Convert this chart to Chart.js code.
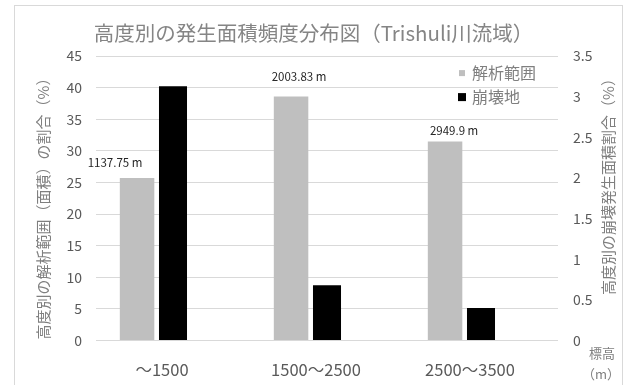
<!DOCTYPE html>
<html>
<head>
<meta charset="utf-8">
<script src="https://cdn.jsdelivr.net/npm/chart.js@4/dist/chart.umd.min.js"></script>
<style>
  html, body { margin:0; padding:0; background:#fff; }
  #wrap { position:relative; width:627px; height:385px; overflow:hidden; }
  #frame { position:absolute; left:14px; top:5px; width:609px; height:400px;
           border:1px solid #d9d9d9; box-sizing:border-box; }
  canvas { position:absolute; left:0; top:0; }
</style>
</head>
<body>
<div id="wrap">
  <div id="frame"></div>
  <canvas id="c" width="627" height="385"></canvas>
</div>
<script>
// 標高帯
var categories = ['～1500', '1500～2500', '2500～3500'];
// 解析範囲の割合（%） 左軸
var areaShare = [25.7, 38.6, 31.5];
// 崩壊発生面積割合（%） 右軸
var slideShare = [3.13, 0.68, 0.40];
// 各標高帯の平均標高
var meanElev = ['1137.75 m', '2003.83 m', '2949.9 m'];
var leftTicks = { min: 0, max: 45, step: 5 };
var rightTicks = { min: 0, max: 3.5, step: 0.5 };

var JP = '"Noto Sans CJK JP", "Noto Sans", sans-serif';

// 凡例・軸タイトル・平均標高ラベル
var extras = {
  id: 'extras',
  afterDatasetsDraw: function(chart, args, opt){
    var ctx = chart.ctx, area = chart.chartArea;
    ctx.save();

    // 平均標高ラベル（灰色バーの上）
    var meta = chart.getDatasetMeta(0);
    ctx.font = '11.5px ' + JP;
    ctx.fillStyle = '#262626';
    ctx.textAlign = 'center';
    ctx.textBaseline = 'middle';
    meta.data.forEach(function(bar, i){
      var o = opt.labelNudge[i];
      ctx.fillText(meanElev[i], bar.x + o[0], bar.y + o[1]);
    });

    // 凡例
    ctx.font = '16px ' + JP;
    ctx.textAlign = 'left';
    var lx = area.right - 100, ly = area.top + 17;
    chart.data.datasets.forEach(function(ds, i){
      if (!ds.label) return;
      var s = ds.legendBox;
      ctx.fillStyle = ds.backgroundColor;
      ctx.fillRect(lx + (8 - s) / 2, ly - s / 2, s, s);
      ctx.fillStyle = '#7f7f7f';
      ctx.fillText(ds.label, lx + 14, ly);
      ly += 24;
    });

    // 軸タイトル（下から上へ）
    ctx.fillStyle = '#7f7f7f';
    ctx.textAlign = 'center';
    ctx.font = '15px ' + JP;
    ctx.translate(43, 205);
    ctx.rotate(-Math.PI / 2);
    ctx.fillText('高度別の解析範囲（面積）の割合（%）', 0, 0);
    ctx.setTransform(1, 0, 0, 1, 0, 0);

    ctx.font = '15px ' + JP;
    ctx.translate(608, 183);
    ctx.rotate(-Math.PI / 2);
    ctx.fillText('高度別の崩壊発生面積割合（%）', 0, 0);
    ctx.setTransform(1, 0, 0, 1, 0, 0);

    // 標高（m）
    ctx.font = '13px ' + JP;
    ctx.fillText('標高', 602, 353);
    ctx.fillText('（m）', 601, 374);
    ctx.restore();
  }
};

new Chart(document.getElementById('c'), {
  type: 'bar',
  data: {
    labels: categories,
    datasets: [
      { label: '解析範囲', data: areaShare, yAxisID: 'y', backgroundColor: '#bfbfbf',
        barPercentage: 0.96, legendBox: 6 },
      { label: '崩壊地', data: slideShare, yAxisID: 'y1', backgroundColor: '#000000',
        barPercentage: 0.78, legendBox: 8 },
      { label: '', data: [null, null, null], yAxisID: 'y1', backgroundColor: 'rgba(0,0,0,0)' }
    ]
  },
  options: {
    responsive: false,
    animation: false,
    categoryPercentage: 0.70,
    layout: { padding: 0 },
    plugins: {
      legend: { display: false },
      tooltip: { enabled: false },
      title: {
        display: true,
        text: '高度別の発生面積頻度分布図（Trishuli川流域）',
        color: '#858585',
        font: { family: JP, size: 20.5, weight: 'normal' },
        lineHeight: 1.1,
        padding: { top: 21, bottom: 10.5 }
      },
      extras: { labelNudge: [[-22, -15], [8, -20], [9, -11]] }
    },
    scales: {
      x: {
        grid: { display: false, drawTicks: false },
        border: { display: false },
        ticks: { color: '#595959', font: { family: JP, size: 16.5, lineHeight: 1.1 }, padding: 20.5, labelOffset: -11 },
        afterFit: function(s){ s.height = 44.5; }
      },
      y: {
        position: 'left',
        min: leftTicks.min, max: leftTicks.max,
        ticks: { stepSize: leftTicks.step, color: '#595959', font: { family: JP, size: 14 }, padding: 14 },
        grid: { color: '#d9d9d9', drawTicks: false },
        border: { display: false },
        afterFit: function(s){ s.width = 96; }
      },
      y1: {
        position: 'right',
        min: rightTicks.min, max: rightTicks.max,
        ticks: { stepSize: rightTicks.step, color: '#595959', font: { family: JP, size: 14 }, padding: 15,
                 callback: function(v){ return String(Math.round(v * 10) / 10); } },
        grid: { drawOnChartArea: false, drawTicks: false },
        border: { display: false },
        afterFit: function(s){ s.width = 69; }
      }
    }
  },
  plugins: [extras]
});
</script>
</body>
</html>
